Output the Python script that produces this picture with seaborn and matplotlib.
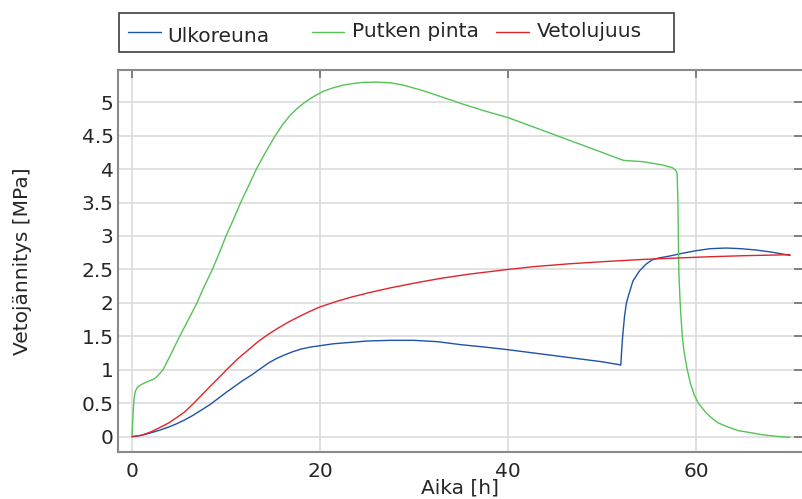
import numpy as np
import pandas as pd
import seaborn as sns
import matplotlib
matplotlib.use("Agg")
import matplotlib.pyplot as plt
from matplotlib.lines import Line2D
from matplotlib.patches import Rectangle

# --- data -------------------------------------------------------------
series_names = ["Ulkoreuna", "Putken pinta", "Vetolujuus"]
series_colors = ["#1f52a8", "#55c355", "#e0252a"]

ulkoreuna_t = [0, 1.0, 2.06, 3.0, 3.83, 4.7, 5.6, 6.5, 7.4, 8.3, 9.15, 10.0,
               10.9, 11.8, 12.7, 13.6, 14.5, 15.4, 16.2, 17.1, 18.0, 19.0,
               20.0, 21.5, 23.3, 25.0, 27.5, 30.0, 32.5, 35.0, 37.5, 40.0,
               42.5, 45.0, 47.5, 50.0, 51.9, 52.0, 52.1, 52.2, 52.4, 52.6,
               52.8, 53.3, 54.0, 54.7, 55.3, 56.0, 57.2, 58.5, 60.0, 61.5,
               63.2, 64.8, 66.4, 68.0, 69.6, 70.0]
ulkoreuna_s = [0, 0.02, 0.06, 0.10, 0.14, 0.19, 0.25, 0.32, 0.40, 0.48, 0.57,
               0.66, 0.75, 0.84, 0.92, 1.01, 1.10, 1.17, 1.22, 1.27, 1.31,
               1.34, 1.36, 1.39, 1.41, 1.43, 1.44, 1.44, 1.42, 1.375, 1.34,
               1.30, 1.255, 1.21, 1.165, 1.12, 1.075, 1.07, 1.30, 1.50, 1.80,
               2.00, 2.10, 2.33, 2.48, 2.58, 2.64, 2.67, 2.70, 2.74, 2.78,
               2.81, 2.82, 2.81, 2.79, 2.76, 2.72, 2.71]

putki_t = [0, 0.1, 0.2, 0.35, 0.6, 1.0, 1.6, 2.3, 2.6, 3.3, 4.2, 5.07, 6.0,
           6.91, 7.7, 8.55, 9.3, 10.0, 10.8, 11.56, 12.4, 13.23, 14.2, 15.2,
           16.0, 16.8, 17.6, 18.5, 19.4, 20.3, 21.3, 22.3, 23.3, 24.5, 26.0,
           27.5, 29.0, 31.0, 32.5, 35.0, 37.5, 40.0, 42.5, 45.0, 47.5, 50.0,
           51.5, 52.3, 54.4, 56.5, 57.5, 57.85, 58.0, 58.08, 58.12, 58.18,
           58.3, 58.4, 58.55, 58.7, 59.0, 59.4, 59.8, 60.25, 61.0, 61.5, 62.3,
           63.3, 64.5, 65.8, 67.0, 67.9, 69.0, 70.0]
putki_s = [0, 0.30, 0.55, 0.68, 0.74, 0.78, 0.82, 0.86, 0.89, 1.0, 1.25,
           1.5, 1.75, 2.0, 2.25, 2.5, 2.75, 3.0, 3.25, 3.5, 3.75, 4.0, 4.25,
           4.49, 4.66, 4.80, 4.91, 5.01, 5.09, 5.16, 5.21, 5.25, 5.275, 5.295,
           5.30, 5.29, 5.25, 5.17, 5.10, 4.98, 4.87, 4.77, 4.64, 4.51, 4.38,
           4.25, 4.17, 4.13, 4.11, 4.06, 4.02, 3.98, 3.93, 3.50, 3.00, 2.45,
           2.05, 1.80, 1.50, 1.30, 1.05, 0.80, 0.63, 0.50, 0.37, 0.30, 0.21,
           0.15, 0.09, 0.06, 0.03, 0.015, 0.0, -0.01]

veto_t = [0, 1.0, 2.06, 3.0, 3.83, 4.7, 5.6, 6.5, 7.4, 8.3, 9.15, 10.2, 11.3,
          12.4, 13.4, 14.5, 15.5, 16.6, 17.7, 18.8, 20.0, 21.6, 23.3, 25.3,
          27.5, 30.6, 33.0, 35.9, 40.0, 43.0, 46.6, 50.0, 54.4, 57.9, 61.5,
          65.0, 70.0]
veto_s = [0, 0.02, 0.075, 0.14, 0.20, 0.28, 0.37, 0.49, 0.62, 0.75, 0.87,
          1.02, 1.17, 1.30, 1.42, 1.53, 1.62, 1.71, 1.79, 1.865, 1.94, 2.015,
          2.085, 2.155, 2.225, 2.31, 2.37, 2.43, 2.50, 2.545, 2.585, 2.615,
          2.65, 2.67, 2.69, 2.705, 2.72]

x_ticks = [0, 20, 40, 60]
y_ticks = [0, 0.5, 1, 1.5, 2, 2.5, 3, 3.5, 4, 4.5, 5]
y_tick_labels = ["0", "0.5", "1", "1.5", "2", "2.5", "3", "3.5", "4", "4.5", "5"]

df = pd.concat([
    pd.DataFrame({"Aika": ulkoreuna_t, "Vetojännitys": ulkoreuna_s, "Sarja": series_names[0]}),
    pd.DataFrame({"Aika": putki_t, "Vetojännitys": putki_s, "Sarja": series_names[1]}),
    pd.DataFrame({"Aika": veto_t, "Vetojännitys": veto_s, "Sarja": series_names[2]}),
], ignore_index=True)

# --- style ------------------------------------------------------------
sns.set_theme(style="white")
plt.rcParams["font.family"] = ["DejaVu Sans"]
text_color = "#262626"
fs = 14.5

fig = plt.figure(figsize=(8.02, 4.99), dpi=100, facecolor="white")
ax = fig.add_axes([118 / 802, 1 - 452 / 499, 684 / 802, 382 / 499])

sns.lineplot(data=df, x="Aika", y="Vetojännitys", hue="Sarja",
             hue_order=series_names, palette=dict(zip(series_names, series_colors)),
             estimator=None, sort=False, linewidth=1.0, legend=False, ax=ax)

ax.set_xlim(-1.49, 71.28)
ax.set_ylim(-0.229, 5.481)
ax.set_xticks(x_ticks)
ax.set_xticklabels([str(v) for v in x_ticks])
ax.set_yticks(y_ticks)
ax.set_yticklabels(y_tick_labels)

ax.grid(True, color="#dcdcdc", linewidth=1.2)
ax.set_axisbelow(True)
for side in ["left", "bottom", "top"]:
    ax.spines[side].set_color("#8a8a8a")
    ax.spines[side].set_linewidth(1.5)
ax.spines["right"].set_visible(False)

ax.tick_params(direction="in", top=True, right=True, length=6, width=1.3,
               color="#777777", labelsize=fs, labelcolor=text_color)
ax.tick_params(axis="x", pad=7.0)
ax.tick_params(axis="y", pad=3.2)

ax.set_xlabel("Aika [h]", fontsize=fs, color=text_color)
ax.set_ylabel("Vetojännitys [MPa]", fontsize=fs, color=text_color)
ax.xaxis.set_label_coords(0.5, -0.070)
ax.yaxis.set_label_coords(-0.126, 0.5)

# --- legend box above the axes ---------------------------------------
W, H = 802.0, 499.0
fig.add_artist(Rectangle((119 / W, 1 - 51.7 / H), (674 - 119) / W, (51.7 - 12.7) / H,
                         transform=fig.transFigure, facecolor="white",
                         edgecolor="#404040", linewidth=1.2))
line_x0 = [128.0, 311.7, 496.0]
text_x = [167.0, 352.0, 536.5]
text_base = [41.7, 37.3, 37.3]
line_y = 31.7
for name, color, lx, tx, tb in zip(series_names, series_colors, line_x0, text_x, text_base):
    fig.add_artist(Line2D([lx / W, (lx + 32.7) / W], [1 - line_y / H, 1 - line_y / H],
                          transform=fig.transFigure, color=color, linewidth=1.0))
    fig.text(tx / W, 1 - tb / H, name, fontsize=fs, color=text_color,
             ha="left", va="baseline")

fig.savefig("out.png", dpi=100, facecolor="white")
